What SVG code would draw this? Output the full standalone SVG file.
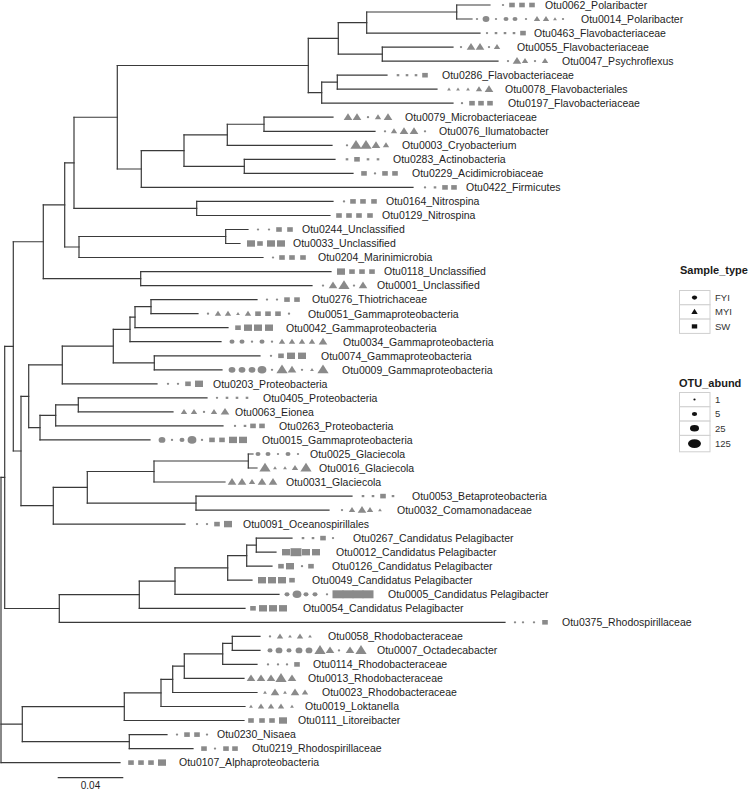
<svg xmlns="http://www.w3.org/2000/svg" width="752" height="790" viewBox="0 0 752 790">
<style>
.br{fill:none;stroke:#3a3a3a;stroke-width:1.2;stroke-linecap:square}
.sym{fill:#8a8a8a}
.lab{font-family:"Liberation Sans",Arial,sans-serif;font-size:10.5px;fill:#1e1e1e}
.lt{font-family:"Liberation Sans",Arial,sans-serif;font-size:11px;font-weight:bold;fill:#1a1a1a}
.ll{font-family:"Liberation Sans",Arial,sans-serif;font-size:9.5px;fill:#333}
.key{fill:#fff;stroke:#cfcfcf;stroke-width:1}
.ks{fill:#111}
</style>
<defs>
<ellipse id="c1" rx="1.2" ry="1.1"/>
<ellipse id="c2" rx="2.5" ry="2.1"/>
<ellipse id="c3" rx="3.4" ry="2.9"/>
<ellipse id="c4" rx="4.4" ry="3.8"/>
<polygon id="t1" points="0,-1.7 1.9,1.2 -1.9,1.2"/>
<polygon id="t2" points="0,-3 3.2,2 -3.2,2"/>
<polygon id="t3" points="0,-4 4.3,2.7 -4.3,2.7"/>
<polygon id="t4" points="0,-5.3 5.6,3.5 -5.6,3.5"/>
<rect id="s1" x="-1.3" y="-1.1" width="2.6" height="2.2"/>
<rect id="s2" x="-2.8" y="-2.3" width="5.6" height="4.6"/>
<rect id="s3" x="-4" y="-3.2" width="8" height="6.4"/>
<rect id="s4" x="-5.5" y="-4" width="11" height="8"/>
</defs>
<g id="connectors" class="br">
<path d="M1 477.45V762.6M4.7 346.4V608.5M13.3 241.75V451M43.3 204.9V278.6M64.7 162.85V247M74 117.25V208.45M117.3 65.5V169M308.3 38.3V92.7M338.3 22.55V54.1M366.7 12V33.1M456.7 5V19M382.3 47.1V61.1M321.7 82.2V103.2M337.3 75.2V89.2M141.3 150.6V187.4M184 134.8V166.35M227.3 124.25V145.3M264 117.2V131.3M244.3 159.3V173.4M196.7 201.4V215.5M79 236.5V257.5M225.7 229.5V243.5M140.7 271.6V285.6M21 396.3V505.7M28.7 364.95V427.65M62.3 346.1V383.8M113.3 329.45V362.8M130 317.2V341.7M135 306.65V327.7M151 299.6V313.7M154.3 355.8V369.8M40 415.4V439.9M55.7 404.85V425.9M78.3 397.8V411.9M53.3 487.3V524.1M87.3 471.5V503.1M154 461V482M248.3 454V468M196 496.1V510.1M59.3 594.7V622.3M139.3 581.1V608.3M175 567.95V594.3M227.7 555.7V580.2M246.7 545.15V566.2M256.3 538.1V552.2M22.3 706.7V741.6M124.3 692.9V720.5M161 679.3V706.5M172.7 666.15V692.5M184.3 653.9V678.4M222.7 643.4V664.4M232.3 636.4V650.4M129.3 734.6V748.6"/>
<path d="M1 477.45H4.7M4.7 346.4H13.3M13.3 241.75H43.3M43.3 204.9H64.7M64.7 162.85H74M74 117.25H117.3M117.3 65.5H308.3M308.3 38.3H338.3M338.3 22.55H366.7M366.7 12H456.7M456.7 5H490M456.7 19H472M366.7 33.1H480M338.3 54.1H382.3M382.3 47.1H453M382.3 61.1H498M308.3 92.7H321.7M321.7 82.2H337.3M337.3 75.2H387M337.3 89.2H437M321.7 103.2H453M117.3 169H141.3M141.3 187.4H413M141.3 150.6H184M184 134.8H227.3M227.3 145.3H332M227.3 124.25H264M264 117.2H333M264 131.3H375M184 166.35H244.3M244.3 159.3H335M244.3 173.4H353M74 208.45H196.7M196.7 201.4H333M196.7 215.5H330M64.7 247H79M79 257.5H263M79 236.5H225.7M225.7 229.5H248M225.7 243.5H240M43.3 278.6H140.7M140.7 271.6H331M140.7 285.6H312"/>
<path d="M13.3 451H21M21 396.3H28.7M28.7 364.95H62.3M62.3 383.8H157M62.3 346.1H113.3M113.3 329.45H130M130 341.7H221M130 317.2H135M135 327.7H228M135 306.65H151M151 299.6H257M151 313.7H198M113.3 362.8H154.3M154.3 355.8H260M154.3 369.8H222M28.7 427.65H40M40 439.9H150M40 415.4H55.7M55.7 425.9H223M55.7 404.85H78.3M78.3 397.8H207M78.3 411.9H173M21 505.7H53.3M53.3 524.1H185M53.3 487.3H87.3M87.3 471.5H154M154 482H225M154 461H248.3M248.3 454H253M248.3 468H257M87.3 503.1H196M196 496.1H352M196 510.1H329"/>
<path d="M4.7 608.5H59.3M59.3 622.3H505M59.3 594.7H139.3M139.3 608.3H245M139.3 581.1H175M175 594.3H279M175 567.95H227.7M227.7 580.2H252M227.7 555.7H246.7M246.7 566.2H272M246.7 545.15H256.3M256.3 538.1H292M256.3 552.2H276"/>
<path d="M1 724.15H22.3M22.3 706.7H124.3M124.3 720.5H244M124.3 692.9H161M161 706.5H245M161 679.3H172.7M172.7 692.5H257M172.7 666.15H184.3M184.3 678.4H244M184.3 653.9H222.7M222.7 664.4H257M222.7 643.4H232.3M232.3 636.4H260M232.3 650.4H260M22.3 741.6H129.3M129.3 734.6H167M129.3 748.6H193M1 762.6H120"/>
</g>
<g class="sym">
<g id="otu0062" transform="translate(0,5)"><use href="#c1" x="503"/><use href="#s2" x="512"/><use href="#s2" x="522"/><use href="#s2" x="532"/><text class="lab" x="545" y="3.8">Otu0062_Polaribacter</text></g>
<g id="otu0014" transform="translate(0,19)"><use href="#c1" x="477"/><use href="#c3" x="486"/><use href="#c1" x="496"/><use href="#c2" x="506"/><use href="#c2" x="515"/><use href="#c1" x="526"/><use href="#t2" x="537"/><use href="#t2" x="546"/><use href="#t1" x="555"/><use href="#c1" x="563"/><text class="lab" x="581" y="3.8">Otu0014_Polaribacter</text></g>
<g id="otu0463" transform="translate(0,33.1)"><use href="#c1" x="487"/><use href="#s1" x="496"/><use href="#s1" x="505"/><use href="#s1" x="514"/><use href="#s2" x="523"/><text class="lab" x="534" y="3.8">Otu0463_Flavobacteriaceae</text></g>
<g id="otu0055" transform="translate(0,47.1)"><use href="#c1" x="461"/><use href="#t3" x="471"/><use href="#t3" x="480"/><use href="#c1" x="489"/><use href="#t2" x="497"/><text class="lab" x="517" y="3.8">Otu0055_Flavobacteriaceae</text></g>
<g id="otu0047" transform="translate(0,61.1)"><use href="#c1" x="508"/><use href="#t3" x="517"/><use href="#t2" x="525"/><use href="#c1" x="535"/><use href="#t2" x="545"/><text class="lab" x="562" y="3.8">Otu0047_Psychroflexus</text></g>
<g id="otu0286" transform="translate(0,75.2)"><use href="#s1" x="398"/><use href="#s1" x="407"/><use href="#s1" x="416"/><use href="#s2" x="425"/><text class="lab" x="442" y="3.8">Otu0286_Flavobacteriaceae</text></g>
<g id="otu0078" transform="translate(0,89.2)"><use href="#t1" x="449"/><use href="#t1" x="458"/><use href="#t1" x="468"/><use href="#t2" x="479"/><use href="#t3" x="489"/><text class="lab" x="505" y="3.8">Otu0078_Flavobacteriales</text></g>
<g id="otu0197" transform="translate(0,103.2)"><use href="#c1" x="462"/><use href="#s2" x="472"/><use href="#s2" x="481"/><use href="#s2" x="490"/><text class="lab" x="508" y="3.8">Otu0197_Flavobacteriaceae</text></g>
<g id="otu0079" transform="translate(0,117.2)"><use href="#t3" x="348"/><use href="#t3" x="357"/><use href="#c1" x="368"/><use href="#t2" x="378"/><use href="#t3" x="388"/><text class="lab" x="405" y="3.8">Otu0079_Microbacteriaceae</text></g>
<g id="otu0076" transform="translate(0,131.3)"><use href="#c1" x="385"/><use href="#t2" x="394"/><use href="#t3" x="404"/><use href="#t3" x="414"/><use href="#c1" x="425"/><text class="lab" x="439" y="3.8">Otu0076_Ilumatobacter</text></g>
<g id="otu0003" transform="translate(0,145.3)"><use href="#c1" x="347"/><use href="#t4" x="356"/><use href="#t4" x="366"/><use href="#t3" x="376"/><use href="#t2" x="386"/><text class="lab" x="402" y="3.8">Otu0003_Cryobacterium</text></g>
<g id="otu0283" transform="translate(0,159.3)"><use href="#s1" x="347"/><use href="#s2" x="357"/><use href="#s1" x="368"/><use href="#s1" x="378"/><text class="lab" x="393" y="3.8">Otu0283_Actinobacteria</text></g>
<g id="otu0229" transform="translate(0,173.4)"><use href="#s2" x="364"/><use href="#c1" x="375"/><use href="#s2" x="385"/><use href="#s2" x="395"/><text class="lab" x="412" y="3.8">Otu0229_Acidimicrobiaceae</text></g>
<g id="otu0422" transform="translate(0,187.4)"><use href="#c1" x="425"/><use href="#s1" x="435"/><use href="#s2" x="445"/><use href="#s2" x="454"/><text class="lab" x="466" y="3.8">Otu0422_Firmicutes</text></g>
<g id="otu0164" transform="translate(0,201.4)"><use href="#c1" x="344"/><use href="#s2" x="353"/><use href="#s2" x="363"/><use href="#s2" x="374"/><text class="lab" x="386" y="3.8">Otu0164_Nitrospina</text></g>
<g id="otu0129" transform="translate(0,215.5)"><use href="#s2" x="339"/><use href="#s2" x="349"/><use href="#s2" x="359"/><use href="#s2" x="370"/><text class="lab" x="382" y="3.8">Otu0129_Nitrospina</text></g>
<g id="otu0244" transform="translate(0,229.5)"><use href="#c1" x="258"/><use href="#c1" x="269"/><use href="#s2" x="279"/><use href="#s2" x="290"/><text class="lab" x="302" y="3.8">Otu0244_Unclassified</text></g>
<g id="otu0033" transform="translate(0,243.5)"><use href="#s3" x="251"/><use href="#s2" x="260"/><use href="#s3" x="271"/><use href="#s3" x="281"/><text class="lab" x="293" y="3.8">Otu0033_Unclassified</text></g>
<g id="otu0204" transform="translate(0,257.5)"><use href="#c1" x="273"/><use href="#s2" x="282"/><use href="#s2" x="292"/><use href="#s2" x="303"/><text class="lab" x="318" y="3.8">Otu0204_Marinimicrobia</text></g>
<g id="otu0118" transform="translate(0,271.6)"><use href="#s3" x="341"/><use href="#s2" x="352"/><use href="#s2" x="362"/><use href="#s2" x="372"/><text class="lab" x="384" y="3.8">Otu0118_Unclassified</text></g>
<g id="otu0001" transform="translate(0,285.6)"><use href="#c1" x="323"/><use href="#t3" x="333"/><use href="#t4" x="344"/><use href="#c1" x="354"/><use href="#t3" x="363"/><text class="lab" x="377" y="3.8">Otu0001_Unclassified</text></g>
<g id="otu0276" transform="translate(0,299.6)"><use href="#c1" x="267"/><use href="#c1" x="277"/><use href="#s2" x="287"/><use href="#s2" x="297"/><text class="lab" x="312" y="3.8">Otu0276_Thiotrichaceae</text></g>
<g id="otu0051" transform="translate(0,313.7)"><use href="#c1" x="208"/><use href="#t2" x="218"/><use href="#t2" x="228"/><use href="#t1" x="238"/><use href="#t2" x="248"/><use href="#s2" x="258"/><use href="#s2" x="268"/><use href="#s2" x="278"/><use href="#c1" x="289"/><text class="lab" x="308" y="3.8">Otu0051_Gammaproteobacteria</text></g>
<g id="otu0042" transform="translate(0,327.7)"><use href="#s2" x="238"/><use href="#s3" x="248"/><use href="#s3" x="258"/><use href="#s3" x="269"/><text class="lab" x="286" y="3.8">Otu0042_Gammaproteobacteria</text></g>
<g id="otu0034" transform="translate(0,341.7)"><use href="#c2" x="232"/><use href="#c2" x="242"/><use href="#c1" x="252"/><use href="#c2" x="262"/><use href="#c1" x="272"/><use href="#t2" x="282"/><use href="#t2" x="292"/><use href="#t2" x="302"/><use href="#t2" x="312"/><use href="#t3" x="323"/><text class="lab" x="343" y="3.8">Otu0034_Gammaproteobacteria</text></g>
<g id="otu0074" transform="translate(0,355.8)"><use href="#c1" x="271"/><use href="#s2" x="281"/><use href="#s3" x="291"/><use href="#s3" x="302"/><text class="lab" x="321" y="3.8">Otu0074_Gammaproteobacteria</text></g>
<g id="otu0009" transform="translate(0,369.8)"><use href="#c3" x="232"/><use href="#c3" x="242"/><use href="#c3" x="252"/><use href="#c4" x="262"/><use href="#c1" x="272"/><use href="#t4" x="282"/><use href="#t3" x="292"/><use href="#c1" x="302"/><use href="#t1" x="312"/><use href="#t4" x="323"/><text class="lab" x="342" y="3.8">Otu0009_Gammaproteobacteria</text></g>
<g id="otu0203" transform="translate(0,383.8)"><use href="#c1" x="168"/><use href="#c1" x="178"/><use href="#s2" x="188"/><use href="#s3" x="199"/><text class="lab" x="213" y="3.8">Otu0203_Proteobacteria</text></g>
<g id="otu0405" transform="translate(0,397.8)"><use href="#c1" x="217"/><use href="#s1" x="227"/><use href="#s1" x="237"/><use href="#s1" x="247"/><text class="lab" x="263" y="3.8">Otu0405_Proteobacteria</text></g>
<g id="otu0063" transform="translate(0,411.9)"><use href="#t2" x="184"/><use href="#t2" x="194"/><use href="#c1" x="204"/><use href="#t2" x="214"/><use href="#t3" x="225"/><text class="lab" x="235" y="3.8">Otu0063_Eionea</text></g>
<g id="otu0263" transform="translate(0,425.9)"><use href="#c1" x="235"/><use href="#s1" x="245"/><use href="#s2" x="253"/><use href="#s2" x="262"/><text class="lab" x="279" y="3.8">Otu0263_Proteobacteria</text></g>
<g id="otu0015" transform="translate(0,439.9)"><use href="#c3" x="162"/><use href="#c1" x="172"/><use href="#c2" x="182"/><use href="#c4" x="192"/><use href="#c1" x="202"/><use href="#s2" x="212"/><use href="#s2" x="222"/><use href="#s3" x="233"/><use href="#s3" x="243"/><text class="lab" x="262" y="3.8">Otu0015_Gammaproteobacteria</text></g>
<g id="otu0025" transform="translate(0,454)"><use href="#c2" x="258"/><use href="#c2" x="268"/><use href="#c1" x="278"/><use href="#c2" x="288"/><use href="#c1" x="298"/><text class="lab" x="310" y="3.8">Otu0025_Glaciecola</text></g>
<g id="otu0016" transform="translate(0,468)"><use href="#t4" x="265"/><use href="#t1" x="275"/><use href="#t1" x="285"/><use href="#t2" x="295"/><use href="#t4" x="306"/><text class="lab" x="319" y="3.8">Otu0016_Glaciecola</text></g>
<g id="otu0031" transform="translate(0,482)"><use href="#t3" x="232"/><use href="#t3" x="242"/><use href="#t2" x="252"/><use href="#t3" x="262"/><use href="#t3" x="273"/><text class="lab" x="286" y="3.8">Otu0031_Glaciecola</text></g>
<g id="otu0053" transform="translate(0,496.1)"><use href="#s1" x="363"/><use href="#s1" x="373"/><use href="#s2" x="383"/><use href="#s1" x="393"/><text class="lab" x="412" y="3.8">Otu0053_Betaproteobacteria</text></g>
<g id="otu0032" transform="translate(0,510.1)"><use href="#c1" x="342"/><use href="#t2" x="352"/><use href="#t3" x="362"/><use href="#t2" x="370"/><use href="#t1" x="380"/><text class="lab" x="397" y="3.8">Otu0032_Comamonadaceae</text></g>
<g id="otu0091" transform="translate(0,524.1)"><use href="#c1" x="197"/><use href="#c1" x="207"/><use href="#s2" x="217"/><use href="#s3" x="228"/><text class="lab" x="243" y="3.8">Otu0091_Oceanospirillales</text></g>
<g id="otu0267" transform="translate(0,538.1)"><use href="#s1" x="303"/><use href="#s1" x="313"/><use href="#s2" x="323"/><use href="#c1" x="333"/><text class="lab" x="353" y="3.8">Otu0267_Candidatus Pelagibacter</text></g>
<g id="otu0012" transform="translate(0,552.2)"><use href="#s3" x="286"/><use href="#s4" x="296"/><use href="#s3" x="306"/><use href="#s3" x="316"/><text class="lab" x="336" y="3.8">Otu0012_Candidatus Pelagibacter</text></g>
<g id="otu0126" transform="translate(0,566.2)"><use href="#s2" x="281"/><use href="#s3" x="290"/><use href="#c1" x="302"/><use href="#s2" x="311"/><text class="lab" x="332" y="3.8">Otu0126_Candidatus Pelagibacter</text></g>
<g id="otu0049" transform="translate(0,580.2)"><use href="#s3" x="262"/><use href="#s3" x="272"/><use href="#s3" x="282"/><use href="#s2" x="292"/><text class="lab" x="312" y="3.8">Otu0049_Candidatus Pelagibacter</text></g>
<g id="otu0005" transform="translate(0,594.3)"><use href="#c2" x="287"/><use href="#c4" x="297"/><use href="#c2" x="306"/><use href="#c2" x="315"/><use href="#c1" x="327"/><use href="#s4" x="338"/><use href="#s4" x="348"/><use href="#s4" x="358"/><use href="#s4" x="368"/><text class="lab" x="388" y="3.8">Otu0005_Candidatus Pelagibacter</text></g>
<g id="otu0054" transform="translate(0,608.3)"><use href="#s2" x="253"/><use href="#s3" x="263"/><use href="#s3" x="273"/><use href="#s3" x="283"/><text class="lab" x="303" y="3.8">Otu0054_Candidatus Pelagibacter</text></g>
<g id="otu0375" transform="translate(0,622.3)"><use href="#c1" x="515"/><use href="#c1" x="523"/><use href="#c1" x="534"/><use href="#s2" x="545"/><text class="lab" x="562" y="3.8">Otu0375_Rhodospirillaceae</text></g>
<g id="otu0058" transform="translate(0,636.4)"><use href="#c1" x="270"/><use href="#t2" x="280"/><use href="#t1" x="290"/><use href="#t2" x="300"/><use href="#t1" x="310"/><text class="lab" x="328" y="3.8">Otu0058_Rhodobacteraceae</text></g>
<g id="otu0007" transform="translate(0,650.4)"><use href="#c2" x="270"/><use href="#c3" x="279"/><use href="#c2" x="289"/><use href="#c3" x="299"/><use href="#c3" x="309"/><use href="#t4" x="320"/><use href="#t3" x="330"/><use href="#c1" x="339"/><use href="#t3" x="350"/><use href="#t4" x="361"/><text class="lab" x="377" y="3.8">Otu0007_Octadecabacter</text></g>
<g id="otu0114" transform="translate(0,664.4)"><use href="#c1" x="268"/><use href="#c1" x="278"/><use href="#c1" x="287"/><use href="#s2" x="297"/><text class="lab" x="313" y="3.8">Otu0114_Rhodobacteraceae</text></g>
<g id="otu0013" transform="translate(0,678.4)"><use href="#t3" x="251"/><use href="#t3" x="261"/><use href="#t3" x="271"/><use href="#t4" x="281"/><use href="#t3" x="292"/><text class="lab" x="308" y="3.8">Otu0013_Rhodobacteraceae</text></g>
<g id="otu0023" transform="translate(0,692.5)"><use href="#t1" x="265"/><use href="#t3" x="275"/><use href="#t1" x="285"/><use href="#t3" x="295"/><use href="#t2" x="305"/><text class="lab" x="322" y="3.8">Otu0023_Rhodobacteraceae</text></g>
<g id="otu0019" transform="translate(0,706.5)"><use href="#t1" x="251"/><use href="#t2" x="261"/><use href="#t2" x="271"/><use href="#t2" x="281"/><use href="#t1" x="292"/><text class="lab" x="305" y="3.8">Otu0019_Loktanella</text></g>
<g id="otu0111" transform="translate(0,720.5)"><use href="#s2" x="251"/><use href="#s2" x="262"/><use href="#s2" x="272"/><use href="#s3" x="283"/><text class="lab" x="298" y="3.8">Otu0111_Litoreibacter</text></g>
<g id="otu0230" transform="translate(0,734.6)"><use href="#c1" x="177"/><use href="#s2" x="187"/><use href="#s2" x="197"/><use href="#c1" x="207"/><text class="lab" x="217" y="3.8">Otu0230_Nisaea</text></g>
<g id="otu0219" transform="translate(0,748.6)"><use href="#s2" x="204"/><use href="#c1" x="215"/><use href="#s2" x="226"/><use href="#s2" x="235"/><text class="lab" x="252" y="3.8">Otu0219_Rhodospirillaceae</text></g>
<g id="otu0107" transform="translate(0,762.6)"><use href="#s2" x="131"/><use href="#s2" x="141"/><use href="#s2" x="151"/><use href="#s3" x="162"/><text class="lab" x="179" y="3.8">Otu0107_Alphaproteobacteria</text></g>
</g>
<g id="scale-bar">
<path class="br" d="M58.3 777.7H122.7"/>
<text class="lab" x="90.5" y="789" text-anchor="middle" style="font-size:10px">0.04</text>
</g>
<g id="legend">
<text class="lt" x="680" y="273.5">Sample_type</text>
<rect class="key" x="679.5" y="290.5" width="30.5" height="14.3"/>
<rect class="key" x="679.5" y="304.8" width="30.5" height="14.3"/>
<rect class="key" x="679.5" y="319.1" width="30.5" height="14.3"/>
<ellipse class="ks" cx="694.5" cy="297.6" rx="2.6" ry="2.1"/>
<polygon class="ks" points="694.5,308.8 697.7,314 691.3,314"/>
<rect class="ks" x="691.8" y="324.3" width="5.4" height="4.2"/>
<text class="ll" x="715" y="300.9">FYI</text>
<text class="ll" x="715" y="315.3">MYI</text>
<text class="ll" x="715" y="329.6">SW</text>
<text class="lt" x="679" y="387">OTU_abund</text>
<rect class="key" x="679.5" y="392.5" width="30.5" height="14.3"/>
<rect class="key" x="679.5" y="406.8" width="30.5" height="14.3"/>
<rect class="key" x="679.5" y="421.1" width="30.5" height="14.3"/>
<rect class="key" x="679.5" y="435.4" width="30.5" height="16.4"/>
<ellipse class="ks" cx="694.5" cy="399.6" rx="1.1" ry="1"/>
<ellipse class="ks" cx="694.5" cy="414" rx="2.6" ry="2.1"/>
<ellipse class="ks" cx="694.5" cy="428.2" rx="4.5" ry="3.3"/>
<ellipse class="ks" cx="694.5" cy="443.6" rx="6.5" ry="4.4"/>
<text class="ll" x="715" y="403">1</text>
<text class="ll" x="715" y="417.4">5</text>
<text class="ll" x="715" y="431.6">25</text>
<text class="ll" x="715" y="447">125</text>
</g>
</svg>
